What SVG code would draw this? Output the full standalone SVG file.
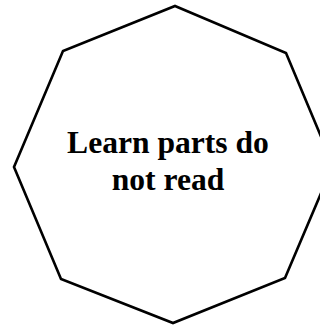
<svg xmlns="http://www.w3.org/2000/svg" width="320" height="326" viewBox="0 0 320 326">
<style>
.shape{fill:#fff;stroke:#000;stroke-width:2.6;stroke-linejoin:miter}
.lbl{font-family:"Liberation Serif","Times New Roman",serif;font-weight:bold;font-size:31.6px;fill:#000;text-anchor:middle}
</style>
<rect width="320" height="326" fill="#fff"/>
<g id="node1">
<polygon class="shape" points="175,6 286,53 333,165 285,278 173,323 61,279 14,167 63,51"/>
<text class="lbl" x="168" y="153">Learn parts do</text>
<text class="lbl" x="168" y="190">not read</text>
</g>
<g id="connectors"/>
</svg>
